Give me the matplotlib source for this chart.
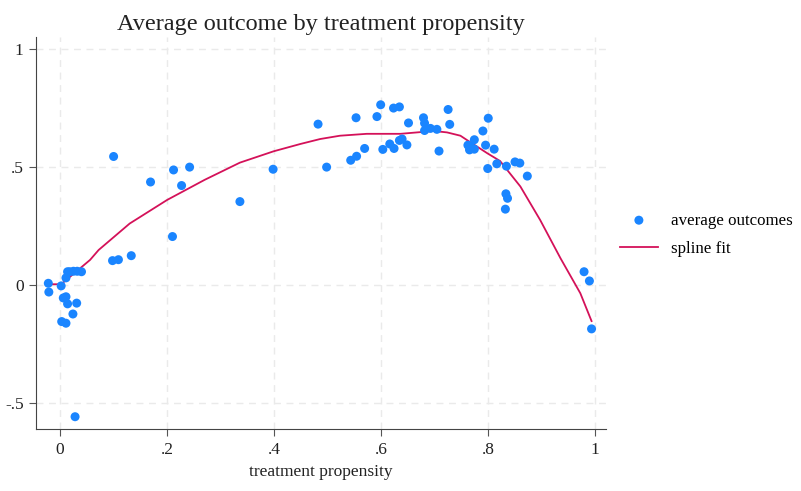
import numpy as np
import matplotlib.pyplot as plt

plt.rcParams['font.family'] = ['Liberation Serif', 'DejaVu Serif']

# binned average outcomes
prop = [-0.022, -0.021, 0.002, 0.006, 0.011, 0.014, 0.011, 0.018, 0.025, 0.032, 0.04,
        0.014, 0.031, 0.024, 0.003, 0.011, 0.028,
        0.098, 0.100, 0.109, 0.133, 0.169, 0.210, 0.212, 0.227, 0.242, 0.336, 0.398,
        0.482, 0.498, 0.543, 0.553, 0.554, 0.569, 0.592, 0.599, 0.603, 0.616, 0.623,
        0.624, 0.634, 0.634, 0.639, 0.648, 0.651, 0.679, 0.681, 0.681, 0.692, 0.704,
        0.708, 0.725, 0.728, 0.762, 0.765, 0.768, 0.774, 0.774, 0.790, 0.795, 0.799,
        0.800, 0.811, 0.816, 0.834, 0.850, 0.859, 0.873, 0.833, 0.836, 0.832,
        0.979, 0.989, 0.993]
outcome = [0.007, -0.030, -0.004, -0.055, -0.050, 0.056, 0.030, 0.056, 0.058, 0.058, 0.056,
           -0.080, -0.077, -0.123, -0.155, -0.162, -0.558,
           0.103, 0.544, 0.107, 0.124, 0.436, 0.205, 0.487, 0.421, 0.499, 0.353, 0.490,
           0.681, 0.499, 0.528, 0.708, 0.545, 0.578, 0.713, 0.763, 0.574, 0.597, 0.749,
           0.578, 0.754, 0.612, 0.618, 0.593, 0.686, 0.708, 0.685, 0.654, 0.663, 0.659,
           0.567, 0.743, 0.680, 0.592, 0.572, 0.583, 0.615, 0.575, 0.652, 0.592, 0.493,
           0.706, 0.575, 0.513, 0.503, 0.521, 0.516, 0.461, 0.386, 0.367, 0.321,
           0.056, 0.017, -0.186]

# spline fit evaluated along the propensity range
fit_x = [-0.022, 0.002, 0.056, 0.072, 0.13, 0.2, 0.27, 0.336, 0.399, 0.449, 0.486,
         0.523, 0.573, 0.636, 0.698, 0.723, 0.748, 0.76, 0.798, 0.822, 0.86, 0.897,
         0.935, 0.972, 0.993]
fit_y = [0.003, 0.003, 0.106, 0.148, 0.26, 0.36, 0.445, 0.518, 0.566, 0.597, 0.618,
         0.632, 0.640, 0.640, 0.652, 0.646, 0.632, 0.614, 0.558, 0.525, 0.417, 0.275,
         0.113, -0.035, -0.153]

fig = plt.figure(figsize=(8.01, 4.91), dpi=100)
ax = fig.add_axes([36/801, 1 - 429/491, 570/801, 392/491])

ax.scatter(prop, outcome, s=42, color='#1a85ff', edgecolors='none', zorder=3,
           label='average outcomes')
ax.plot(fit_x, fit_y, color='#d41159', lw=1.3, zorder=2, label='spline fit')

ax.set_xlim(-0.045, 1.02)
ax.set_ylim(-0.61, 1.05)
ax.set_xticks([0, 0.2, 0.4, 0.6, 0.8, 1])
ax.set_xticklabels(['0', '.2', '.4', '.6', '.8', '1'])
ax.set_yticks([-0.5, 0, 0.5, 1])
ax.set_yticklabels(['-.5', '0', '.5', '1'])
ax.grid(True, color='#eaeaea', ls=(0, (5, 4)), lw=1)
ax.set_axisbelow(True)
for s in ['top', 'right']:
    ax.spines[s].set_visible(False)
for s in ['left', 'bottom']:
    ax.spines[s].set_color('#444444')
ax.tick_params(colors='#555555', labelsize=12.5, length=5, pad=4, labelcolor='#222222')

ax.set_xlabel('treatment propensity', fontsize=12.5, color='#222222', labelpad=5)
ax.set_title('Average outcome by treatment propensity', fontsize=17.5, color='#222222', pad=5)

fig.legend(loc='center left', bbox_to_anchor=(605/801, 1 - 235/491), frameon=False,
           fontsize=12.2, handlelength=2.2, labelspacing=0.75, handletextpad=0.8)

fig.savefig('out.png', dpi=100)
